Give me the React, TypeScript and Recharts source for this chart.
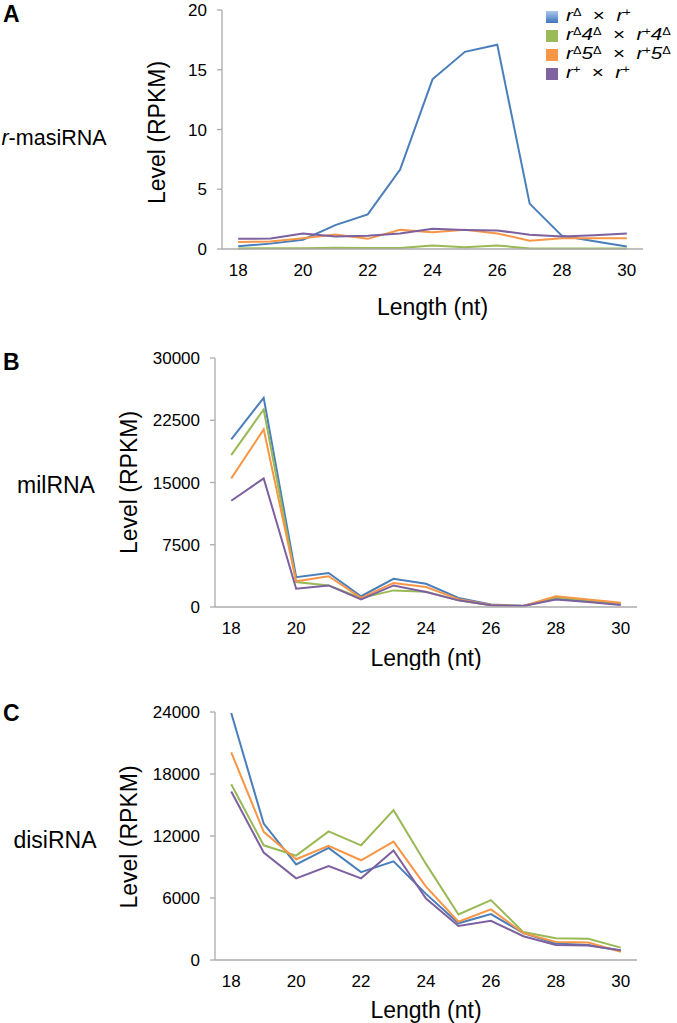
import React from 'react';
import { LineChart, Line, XAxis, YAxis, Legend } from 'recharts';

// ---------- data ----------
const lengths = [18, 19, 20, 21, 22, 23, 24, 25, 26, 27, 28, 29, 30];
const xTicks = [18, 20, 22, 24, 26, 28, 30];

// A: r-masiRNA
const masiD_P = [0.22, 0.45, 0.78, 2.0, 2.9, 6.65, 14.2, 16.5, 17.1, 3.8, 1.1, 0.65, 0.2];
const masiD4_P4 = [0.05, 0.06, 0.06, 0.1, 0.08, 0.08, 0.3, 0.15, 0.3, 0.05, 0.05, 0.05, 0.05];
const masiD5_P5 = [0.58, 0.62, 0.9, 1.22, 0.85, 1.6, 1.4, 1.62, 1.3, 0.7, 0.9, 0.9, 0.9];
const masiP_P = [0.85, 0.88, 1.3, 1.05, 1.1, 1.3, 1.7, 1.6, 1.55, 1.2, 1.05, 1.15, 1.3];
const masiTicks = [0, 5, 10, 15, 20];

// B: milRNA
const milD_P = [20200, 25200, 3600, 4100, 1300, 3400, 2800, 1100, 300, 150, 1000, 650, 350];
const milD4_P4 = [18300, 23800, 3000, 2600, 1100, 2000, 1850, 800, 200, 100, 1150, 800, 400];
const milD5_P5 = [15500, 21400, 3100, 3700, 1100, 2900, 2400, 950, 250, 120, 1300, 900, 500];
const milP_P = [12800, 15500, 2200, 2600, 900, 2600, 1800, 800, 200, 120, 900, 600, 250];
const milTicks = [0, 7500, 15000, 22500, 30000];

// C: disiRNA
const disiD_P = [23900, 13200, 9250, 10850, 8500, 9550, 6400, 3550, 4450, 2600, 1600, 1450, 900];
const disiD4_P4 = [17000, 11100, 10100, 12450, 11100, 14500, 9300, 4400, 5800, 2700, 2100, 2050, 1200];
const disiD5_P5 = [20100, 12400, 9750, 11050, 9650, 11450, 7100, 3700, 4900, 2600, 1750, 1700, 800];
const disiP_P = [16300, 10400, 7900, 9100, 7900, 10600, 5950, 3300, 3800, 2300, 1450, 1400, 950];
const disiTicks = [0, 6000, 12000, 18000, 24000];

const seriesKeys = ['dP', 'd4p4', 'd5p5', 'pP'];
const seriesNames = ['rΔ × r+', 'rΔ4Δ × r+4Δ', 'rΔ5Δ × r+5Δ', 'r+ × r+'];
const lineColors = ['#4A7EBB', '#98B954', '#F79646', '#7D60A0'];
const swatches = [
  'linear-gradient(#A9C8EE, #3F74B8)',
  '#9BBB59',
  '#F79646',
  '#8064A2',
];

type Seg = { t: string; i?: boolean; s?: boolean };
const legendLabels: Seg[][] = [
  [{ t: 'r', i: true }, { t: 'Δ', s: true }, { t: '  ×  ' }, { t: 'r', i: true }, { t: '+', s: true }],
  [{ t: 'r', i: true }, { t: 'Δ', s: true }, { t: '4', i: true }, { t: 'Δ', s: true }, { t: '  ×  ' }, { t: 'r', i: true }, { t: '+', s: true }, { t: '4', i: true }, { t: 'Δ', s: true }],
  [{ t: 'r', i: true }, { t: 'Δ', s: true }, { t: '5', i: true }, { t: 'Δ', s: true }, { t: '  ×  ' }, { t: 'r', i: true }, { t: '+', s: true }, { t: '5', i: true }, { t: 'Δ', s: true }],
  [{ t: 'r', i: true }, { t: '+', s: true }, { t: '  ×  ' }, { t: 'r', i: true }, { t: '+', s: true }],
];

const build = (a: number[], b: number[], c: number[], d: number[]) =>
  lengths.map((len, i) => ({ len, dP: a[i], d4p4: b[i], d5p5: c[i], pP: d[i] }));

const dataA = build(masiD_P, masiD4_P4, masiD5_P5, masiP_P);
const dataB = build(milD_P, milD4_P4, milD5_P5, milP_P);
const dataC = build(disiD_P, disiD4_P4, disiD5_P5, disiP_P);

const FONT = '"Liberation Sans", Arial, Helvetica, sans-serif';
const AXIS = '#ABABAB';

const renderLegend = (props: any) => {
  const payload = [...(props.payload || [])].sort(
    (a: any, b: any) => seriesKeys.indexOf(a.dataKey) - seriesKeys.indexOf(b.dataKey)
  );
  return (
    <div style={{ fontFamily: FONT, fontSize: 16.5, color: '#000' }}>
      {payload.map((entry: any, idx: number) => {
        const k = seriesKeys.indexOf(entry.dataKey);
        const segs = legendLabels[k >= 0 ? k : idx];
        return (
          <div key={idx} style={{ display: 'flex', alignItems: 'center', height: 19, whiteSpace: 'pre' }}>
            <span style={{ display: 'inline-block', flex: 'none', width: 12, height: 12, marginRight: 8, background: swatches[k >= 0 ? k : idx] }} />
            <span style={{ display: 'inline-block', lineHeight: '18px', transform: 'scaleX(1.25)', transformOrigin: 'left center' }}>
              {segs.map((s, j) =>
                s.s ? (
                  <span key={j} style={{ fontSize: '0.62em', position: 'relative', top: '-0.5em' }}>{s.t}</span>
                ) : (
                  <span key={j} style={{ fontStyle: s.i ? 'italic' : 'normal' }}>{s.t}</span>
                )
              )}
            </span>
          </div>
        );
      })}
    </div>
  );
};

type PanelProps = {
  top: number;
  height: number;
  marginTop: number;
  yAxisWidth: number;
  marginRight: number;
  xAxisHeight: number;
  data: any[];
  yTicks: number[];
  yTitleX: number;
  yTitleDy: number;
  xTitleDy: number;
  legend?: boolean;
};

function Panel(p: PanelProps) {
  const yMax = p.yTicks[p.yTicks.length - 1];
  const xTitle = (lp: any) => {
    const vb = lp.viewBox || {};
    return (
      <text x={vb.x + vb.width / 2} y={vb.y + p.xTitleDy} textAnchor="middle" dominantBaseline="central" fontSize={23} fill="#000" fontFamily={FONT}>
        Length (nt)
      </text>
    );
  };
  const yTitle = (lp: any) => {
    const vb = lp.viewBox || {};
    const cy = vb.y + vb.height / 2 + p.yTitleDy;
    return (
      <text x={p.yTitleX} y={cy} transform={`rotate(-90 ${p.yTitleX} ${cy})`} textAnchor="middle" dominantBaseline="central" fontSize={23} fill="#000" fontFamily={FONT}>
        Level (RPKM)
      </text>
    );
  };
  return (
    <div style={{ position: 'absolute', left: 0, top: p.top }}>
      <LineChart width={677} height={p.height} data={p.data} margin={{ top: p.marginTop, right: p.marginRight, bottom: 0, left: 0 }}>
        <XAxis
          dataKey="len"
          type="number"
          domain={[17.5, 30.5]}
          ticks={xTicks}
          interval={0}
          height={p.xAxisHeight}
          axisLine={{ stroke: AXIS, strokeWidth: 1.3 }}
          tickLine={false}
          tickSize={6}
          tickMargin={9}
          tick={{ fontSize: 17, fill: '#000' }}
          label={xTitle}
        />
        <YAxis
          type="number"
          domain={[0, yMax]}
          ticks={p.yTicks}
          interval={0}
          width={p.yAxisWidth}
          axisLine={{ stroke: AXIS, strokeWidth: 1.3 }}
          tickLine={{ stroke: AXIS, strokeWidth: 1.3 }}
          tickSize={5}
          tickMargin={10}
          tick={{ fontSize: 17, fill: '#000' }}
          label={yTitle}
        />
        {seriesKeys.map((k, i) => (
          <Line
            key={k}
            type="linear"
            dataKey={k}
            name={seriesNames[i]}
            stroke={lineColors[i]}
            strokeWidth={2}
            dot={false}
            isAnimationActive={false}
          />
        ))}
        {p.legend ? (
          <Legend
            layout="vertical"
            align="center"
            verticalAlign="middle"
            wrapperStyle={{ left: 546, top: 7, width: 131 }}
            content={renderLegend}
          />
        ) : null}
      </LineChart>
    </div>
  );
}

export default function App() {
  return (
    <div style={{ position: 'absolute', left: 0, top: 0, width: 677, height: 1023, background: '#fff', fontFamily: FONT, overflow: 'hidden' }}>
      <Panel top={0} height={330} marginTop={10} yAxisWidth={222} marginRight={34} xAxisHeight={81} data={dataA} yTicks={masiTicks} yTitleX={157} yTitleDy={3} xTitleDy={58} legend />
      <Panel top={330} height={340} marginTop={28} yAxisWidth={215} marginRight={40} xAxisHeight={63} data={dataB} yTicks={milTicks} yTitleX={129} yTitleDy={0} xTitleDy={51} />
      <Panel top={670} height={353} marginTop={42} yAxisWidth={215} marginRight={40} xAxisHeight={63} data={dataC} yTicks={disiTicks} yTitleX={129} yTitleDy={1} xTitleDy={50} />
      <svg width={677} height={1023} style={{ position: 'absolute', left: 0, top: 0, pointerEvents: 'none' }}>
        <g fontFamily={FONT} fill="#000">
          <text x={3} y={22} fontSize={23} fontWeight="bold">A</text>
          <text x={3} y={370} fontSize={23} fontWeight="bold">B</text>
          <text x={3} y={721} fontSize={23} fontWeight="bold">C</text>
          <text x={54} y={145} fontSize={21.5} textAnchor="middle">
            <tspan fontStyle="italic">r</tspan>-masiRNA
          </text>
          <text x={56} y={493} fontSize={23} textAnchor="middle">milRNA</text>
          <text x={55} y={848} fontSize={23} textAnchor="middle">disiRNA</text>
        </g>
      </svg>
    </div>
  );
}
